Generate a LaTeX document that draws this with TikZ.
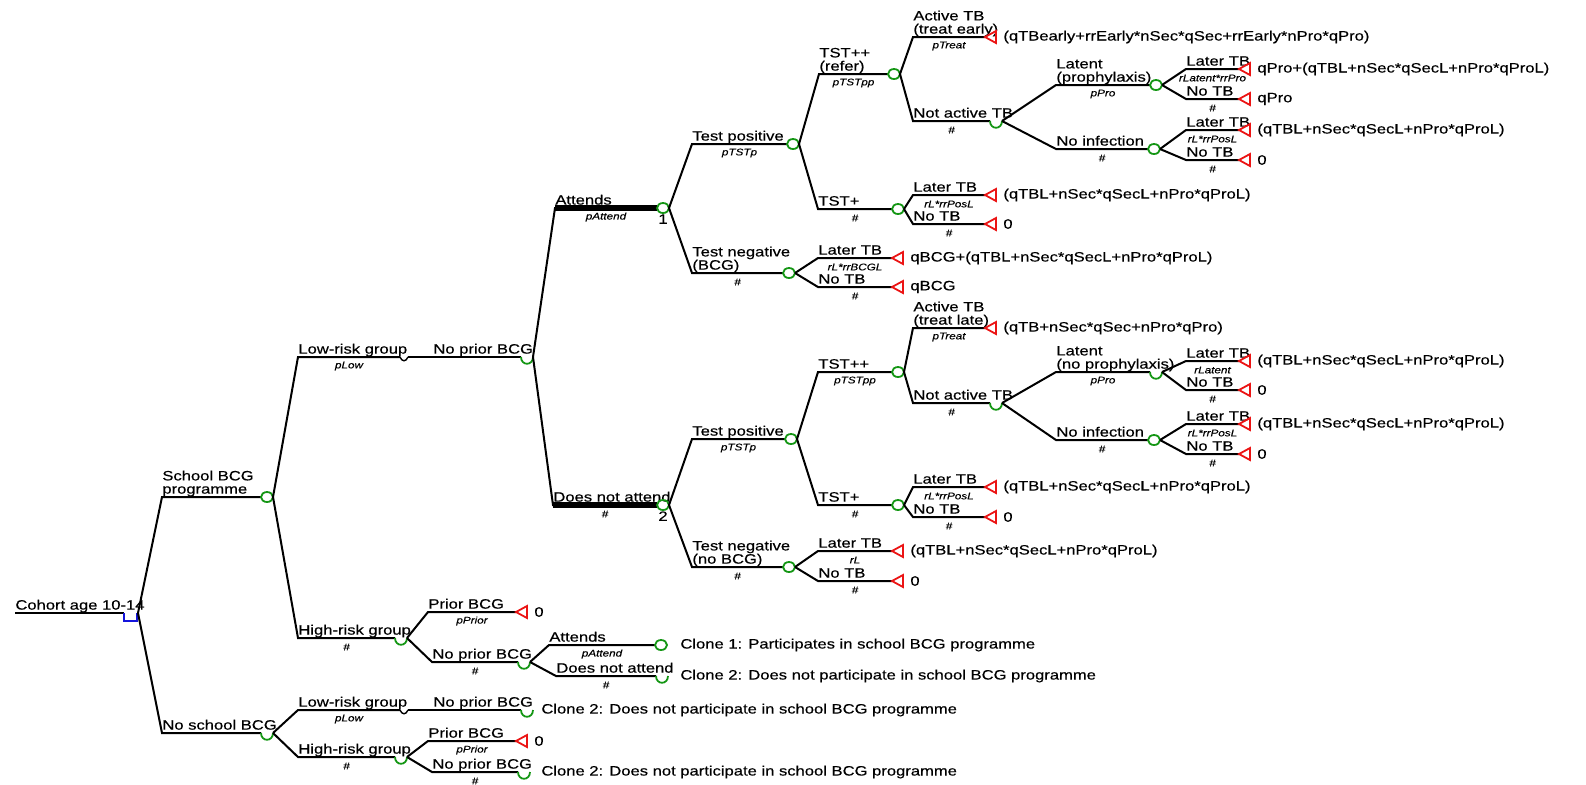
\documentclass[tikz,border=0pt]{standalone}
\usepackage{fontspec}
\setmainfont{Liberation Sans}[FakeStretch=1.22,FakeBold=0.4]
\usetikzlibrary{calc}
\definecolor{tgreen}{RGB}{20,150,20}
\definecolor{tred}{RGB}{235,20,20}
\definecolor{tblue}{RGB}{20,20,220}
\tikzset{
  branch/.style={line width=1pt, black},
  thickbr/.style={line width=2.8pt, black},
  lbl/.style={inner sep=0pt, anchor=south west, text depth=0pt, align=left, font=\fontsize{6.8}{6.6}\selectfont},
  prob/.style={inner sep=0pt, font=\fontsize{4.8}{5}\selectfont\itshape},
  ttext/.style={inner sep=0pt, anchor=west, font=\fontsize{6.8}{7}\selectfont},
  pics/onode/.style={code={\draw[tgreen, line width=0.9pt] (6,0) ellipse [x radius=3pt, y radius=2.5pt];}},
  pics/unode/.style={code={\draw[tgreen, line width=0.9pt] (0,0) .. controls (0,9) and (12,9) .. (12,0);}},
  pics/tnode/.style={code={\draw[tred, line width=0.9pt] (0,0) -- (11,-6) -- (11,6) -- cycle;}},
  pics/squig/.style={code={\draw[black, line width=0.7pt] (0,0) .. controls (2,5) and (6,5) .. (8,0);}},
}
\newcommand\qtbl{(qTBL+nSec*qSecL+nPro*qProL)}
\newcommand\Br[7]{%
  \coordinate (#1s) at (#3,#5);
  \coordinate (#1e) at (#4,#5);
  \draw[branch] (#2) -- (#1s) -- (#1e);
  \node[lbl] (#1L) at ($(#1s)+(0,-3)$) {#6};
  \node[prob] (#1P) at ($(#1s)!0.5!(#1e)+(0,9)$) {#7};
}
\newcommand\ChanceNode[1]{\pic (#1n) at (#1e) {onode}; \coordinate (#1o) at ($(#1e)+(12,0)$);}
\newcommand\HalfNode[1]{\pic (#1n) at (#1e) {unode}; \coordinate (#1o) at ($(#1e)+(12,0)$);}
\newcommand\TermNode[2]{\pic (#1n) at (#1e) {tnode}; \node[ttext] (#1T) at ($(#1e)+(18,0)$) {#2};}
\begin{document}
\begin{tikzpicture}[x=0.5pt,y=-0.5pt]
\useasboundingbox (0,0) rectangle (1586,784);

% root
\coordinate (roots) at (15,613);
\coordinate (roote) at (124,613);
\draw[branch] (roots) -- (roote);
\node[lbl] (rootL) at ($(roots)+(0,-3)$) {Cohort age 10-14};
\draw[tblue, line width=0.9pt] (roote) -- ++(0,8) -- ++(13,0) -- ++(0,-8);
\coordinate (rooto) at (138,613);

% level 1
\Br{sb}{rooto}{162}{261}{497}{School BCG\\programme}{}
\ChanceNode{sb}
\Br{ns}{rooto}{162}{261}{733}{No school BCG}{}
\HalfNode{ns}

% school BCG: low risk
\Br{lr}{sbo}{298}{400}{357}{Low-risk group}{pLow}
\pic (lrn) at (lre) {squig};
\coordinate (lro) at ($(lre)+(8,0)$);
\coordinate (npe) at (521,357);
\draw[branch] (lro) -- (npe);
\node[lbl] (npL) at (433,354) {No prior BCG};
\HalfNode{np}

% school BCG: high risk
\Br{hr}{sbo}{298}{395}{638}{High-risk group}{\#}
\HalfNode{hr}
\Br{pba}{hro}{428}{516}{612}{Prior BCG}{pPrior}
\TermNode{pba}{0}
\Br{npba}{hro}{432}{518}{662}{No prior BCG}{\#}
\HalfNode{npba}
\Br{atc}{npbao}{549}{655}{645}{Attends}{pAttend}
\ChanceNode{atc}
\node[ttext] (atcT) at (680,645) {Clone 1: Participates in school BCG programme};
\Br{dnc}{npbao}{556}{656}{676}{Does not attend}{\#}
\HalfNode{dnc}
\node[ttext] (dncT) at (680,676) {Clone 2: Does not participate in school BCG programme};

% attends
\Br{at}{npo}{555}{657}{208}{Attends}{pAttend}
\draw[thickbr] (ats) -- (ate);
\ChanceNode{at}
\node[lbl, anchor=north] (at1) at ($(ate)+(6,6)$) {1};

\Br{tpa}{ato}{692}{787}{144}{Test positive}{pTSTp}
\ChanceNode{tpa}
\Br{tna}{ato}{692}{783}{273}{Test negative\\(BCG)}{\#}
\ChanceNode{tna}

\Br{tppa}{tpao}{819}{888}{74}{TST++\\(refer)}{pTSTpp}
\ChanceNode{tppa}
\Br{tspa}{tpao}{818}{892}{209}{TST+}{\#}
\ChanceNode{tspa}

\Br{acta}{tppao}{913}{985}{37}{Active TB\\(treat early)}{pTreat}
\TermNode{acta}{(qTBearly+rrEarly*nSec*qSec+rrEarly*nPro*qPro)}
\Br{nata}{tppao}{913}{990}{121}{Not active TB}{\#}
\HalfNode{nata}

\Br{lpa}{natao}{1056}{1150}{85}{Latent\\(prophylaxis)}{pPro}
\ChanceNode{lpa}
\Br{nia}{natao}{1056}{1148}{149}{No infection}{\#}
\ChanceNode{nia}

\Br{lpaL}{lpao}{1186}{1239}{69}{Later TB}{rLatent*rrPro}
\TermNode{lpaL}{qPro+\qtbl}
\Br{lpaN}{lpao}{1186}{1239}{99}{No TB}{\#}
\TermNode{lpaN}{qPro}
\Br{niaL}{niao}{1186}{1239}{130}{Later TB}{rL*rrPosL}
\TermNode{niaL}{\qtbl}
\Br{niaN}{niao}{1186}{1239}{160}{No TB}{\#}
\TermNode{niaN}{0}

\Br{tspaL}{tspao}{913}{985}{195}{Later TB}{rL*rrPosL}
\TermNode{tspaL}{\qtbl}
\Br{tspaN}{tspao}{913}{985}{224}{No TB}{\#}
\TermNode{tspaN}{0}

\Br{tnaL}{tnao}{818}{892}{258}{Later TB}{rL*rrBCGL}
\TermNode{tnaL}{qBCG+\qtbl}
\Br{tnaN}{tnao}{818}{892}{287}{No TB}{\#}
\TermNode{tnaN}{qBCG}

% does not attend
\Br{dna}{npo}{553}{657}{505}{Does not attend}{\#}
\draw[thickbr] (dnas) -- (dnae);
\ChanceNode{dna}
\node[lbl, anchor=north] (dna2) at ($(dnae)+(6,6)$) {2};

\Br{tpb}{dnao}{692}{785}{439}{Test positive}{pTSTp}
\ChanceNode{tpb}
\Br{tnb}{dnao}{692}{783}{567}{Test negative\\(no BCG)}{\#}
\ChanceNode{tnb}

\Br{tppb}{tpbo}{818}{892}{372}{TST++}{pTSTpp}
\ChanceNode{tppb}
\Br{tspb}{tpbo}{818}{892}{505}{TST+}{\#}
\ChanceNode{tspb}

\Br{actb}{tppbo}{913}{985}{328}{Active TB\\(treat late)}{pTreat}
\TermNode{actb}{(qTB+nSec*qSec+nPro*qPro)}
\Br{natb}{tppbo}{913}{990}{403}{Not active TB}{\#}
\HalfNode{natb}

\Br{lpb}{natbo}{1056}{1150}{372}{Latent\\(no prophylaxis)}{pPro}
\HalfNode{lpb}
\Br{nib}{natbo}{1056}{1148}{440}{No infection}{\#}
\ChanceNode{nib}

\Br{lpbL}{lpbo}{1186}{1239}{361}{Later TB}{rLatent}
\TermNode{lpbL}{\qtbl}
\Br{lpbN}{lpbo}{1186}{1239}{390}{No TB}{\#}
\TermNode{lpbN}{0}
\Br{nibL}{nibo}{1186}{1239}{424}{Later TB}{rL*rrPosL}
\TermNode{nibL}{\qtbl}
\Br{nibN}{nibo}{1186}{1239}{454}{No TB}{\#}
\TermNode{nibN}{0}

\Br{tspbL}{tspbo}{913}{985}{487}{Later TB}{rL*rrPosL}
\TermNode{tspbL}{\qtbl}
\Br{tspbN}{tspbo}{913}{985}{517}{No TB}{\#}
\TermNode{tspbN}{0}

\Br{tnbL}{tnbo}{818}{892}{551}{Later TB}{rL}
\TermNode{tnbL}{\qtbl}
\Br{tnbN}{tnbo}{818}{892}{581}{No TB}{\#}
\TermNode{tnbN}{0}

% no school BCG
\Br{lrb}{nso}{298}{400}{710}{Low-risk group}{pLow}
\pic (lrbn) at (lrbe) {squig};
\coordinate (lrbo) at ($(lrbe)+(8,0)$);
\coordinate (npce) at (521,710);
\draw[branch] (lrbo) -- (npce);
\node[lbl] (npcL) at (433,707) {No prior BCG};
\HalfNode{npc}
\node[ttext] (npcT) at (541,710) {Clone 2: Does not participate in school BCG programme};

\Br{hrb}{nso}{298}{395}{757}{High-risk group}{\#}
\HalfNode{hrb}
\Br{pbb}{hrbo}{428}{516}{741}{Prior BCG}{pPrior}
\TermNode{pbb}{0}
\Br{npbb}{hrbo}{432}{518}{772}{No prior BCG}{\#}
\HalfNode{npbb}
\node[ttext] (npbbT) at (541,772) {Clone 2: Does not participate in school BCG programme};
\end{tikzpicture}
\end{document}
